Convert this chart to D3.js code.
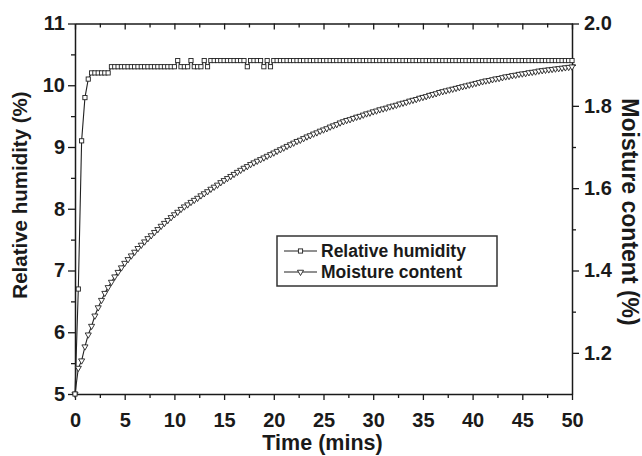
<!DOCTYPE html>
<html><head><meta charset="utf-8">
<script src="https://cdn.jsdelivr.net/npm/d3@7"></script>
<style>
html,body{margin:0;padding:0;background:#fff;}
svg text{font-family:"Liberation Sans",Arial,sans-serif;font-weight:bold;fill:#1a1a1a;}
</style></head>
<body><svg id="c" width="642" height="456"></svg>
<script>
// time in seconds (sampling every 20 s)
const timeSec = [
0,20,40,60,80,100,120,140,160,180,
200,220,240,260,280,300,320,340,360,380,
400,420,440,460,480,500,520,540,560,580,
600,620,640,660,680,700,720,740,760,780,
800,820,840,860,880,900,920,940,960,980,
1000,1020,1040,1060,1080,1100,1120,1140,1160,1180,
1200,1220,1240,1260,1280,1300,1320,1340,1360,1380,
1400,1420,1440,1460,1480,1500,1520,1540,1560,1580,
1600,1620,1640,1660,1680,1700,1720,1740,1760,1780,
1800,1820,1840,1860,1880,1900,1920,1940,1960,1980,
2000,2020,2040,2060,2080,2100,2120,2140,2160,2180,
2200,2220,2240,2260,2280,2300,2320,2340,2360,2380,
2400,2420,2440,2460,2480,2500,2520,2540,2560,2580,
2600,2620,2640,2660,2680,2700,2720,2740,2760,2780,
2800,2820,2840,2860,2880,2900,2920,2940,2960,2980,
3000];
const relativeHumidity = [
5.0,6.7,9.1,9.8,10.1,10.2,10.2,10.2,10.2,10.2,
10.2,10.3,10.3,10.3,10.3,10.3,10.3,10.3,10.3,10.3,
10.3,10.3,10.3,10.3,10.3,10.3,10.3,10.3,10.3,10.3,
10.3,10.4,10.3,10.3,10.3,10.4,10.3,10.3,10.3,10.4,
10.3,10.4,10.4,10.4,10.4,10.4,10.4,10.4,10.4,10.4,
10.4,10.4,10.3,10.4,10.4,10.4,10.4,10.3,10.4,10.3,
10.4,10.4,10.4,10.4,10.4,10.4,10.4,10.4,10.4,10.4,
10.4,10.4,10.4,10.4,10.4,10.4,10.4,10.4,10.4,10.4,
10.4,10.4,10.4,10.4,10.4,10.4,10.4,10.4,10.4,10.4,
10.4,10.4,10.4,10.4,10.4,10.4,10.4,10.4,10.4,10.4,
10.4,10.4,10.4,10.4,10.4,10.4,10.4,10.4,10.4,10.4,
10.4,10.4,10.4,10.4,10.4,10.4,10.4,10.4,10.4,10.4,
10.4,10.4,10.4,10.4,10.4,10.4,10.4,10.4,10.4,10.4,
10.4,10.4,10.4,10.4,10.4,10.4,10.4,10.4,10.4,10.4,
10.4,10.4,10.4,10.4,10.4,10.4,10.4,10.4,10.4,10.4,
10.4];
const moistureContent = [
1.100,1.163,1.181,1.215,1.244,1.265,1.290,1.310,1.328,1.345,
1.359,1.372,1.385,1.396,1.407,1.418,1.427,1.436,1.445,1.454,
1.462,1.470,1.478,1.485,1.493,1.500,1.508,1.515,1.522,1.529,
1.536,1.542,1.549,1.555,1.560,1.566,1.571,1.576,1.582,1.587,
1.592,1.598,1.603,1.608,1.614,1.619,1.624,1.629,1.634,1.639,
1.644,1.649,1.653,1.658,1.662,1.666,1.670,1.674,1.678,1.682,
1.686,1.690,1.694,1.698,1.702,1.706,1.710,1.714,1.717,1.721,
1.725,1.728,1.732,1.735,1.739,1.742,1.745,1.749,1.752,1.755,
1.759,1.762,1.765,1.767,1.770,1.773,1.775,1.778,1.781,1.783,
1.786,1.788,1.791,1.793,1.795,1.798,1.800,1.802,1.805,1.807,
1.809,1.812,1.814,1.816,1.819,1.821,1.823,1.826,1.828,1.830,
1.833,1.835,1.837,1.839,1.841,1.843,1.845,1.847,1.849,1.851,
1.853,1.855,1.857,1.859,1.861,1.862,1.864,1.866,1.867,1.869,
1.871,1.872,1.874,1.875,1.877,1.878,1.879,1.881,1.882,1.883,
1.885,1.886,1.887,1.888,1.889,1.890,1.891,1.892,1.893,1.894,
1.895];
const xTicks = [0,5,10,15,20,25,30,35,40,45,50];
const xMinorTicks = [2.5,7.5,12.5,17.5,22.5,27.5,32.5,37.5,42.5,47.5];
const yLeftTicks = [5,6,7,8,9,10,11];
const yLeftMinorTicks = [5.5,6.5,7.5,8.5,9.5,10.5];
const yRightTicks = [1.2,1.4,1.6,1.8,2.0];
const yRightMinorTicks = [1.3,1.5,1.7,1.9];
const seriesNames = ["Relative humidity","Moisture content"];
const xTitle = "Time (mins)";
const yLeftTitle = "Relative humidity (%)";
const yRightTitle = "Moisture content (%)";

const svg = d3.select("#c");
const L = 75, R = 572, T = 23.5, B = 394;
const x = d3.scaleLinear().domain([0,50]).range([L,R]);
const yL = d3.scaleLinear().domain([5,11]).range([B,T]);
const yR = d3.scaleLinear().domain([1.1,2.0]).range([B,T]);
const ink = "#1a1a1a";

function style(g, fs){
  g.select(".domain").attr("stroke", ink).attr("stroke-width", 1.5);
  g.selectAll(".tick line").attr("stroke", ink).attr("stroke-width", 1.3);
  g.selectAll(".tick text").style("font-size", fs+"px").attr("fill", ink);
}
// bottom
const gb = svg.append("g").attr("transform",`translate(0,${B})`)
  .call(d3.axisBottom(x).tickValues(xTicks).tickSize(6).tickSizeOuter(0).tickPadding(13).tickFormat(d3.format("d")));
style(gb,20);
const gbm = svg.append("g").attr("transform",`translate(0,${B})`)
  .call(d3.axisBottom(x).tickValues(xMinorTicks).tickSize(4).tickSizeOuter(0).tickFormat(""));
style(gbm,20); gbm.select(".domain").remove();
// top (inward ticks)
const gt = svg.append("g").attr("transform",`translate(0,${T})`)
  .call(d3.axisBottom(x).tickValues(xTicks).tickSize(6).tickSizeOuter(0).tickFormat(""));
style(gt,20);
const gtm = svg.append("g").attr("transform",`translate(0,${T})`)
  .call(d3.axisBottom(x).tickValues(xMinorTicks).tickSize(4).tickSizeOuter(0).tickFormat(""));
style(gtm,20); gtm.select(".domain").remove();
// left
const gl = svg.append("g").attr("transform",`translate(${L},0)`)
  .call(d3.axisLeft(yL).tickValues(yLeftTicks).tickSize(7).tickSizeOuter(0).tickPadding(3).tickFormat(d3.format("d")));
style(gl,20);
const glm = svg.append("g").attr("transform",`translate(${L},0)`)
  .call(d3.axisLeft(yL).tickValues(yLeftMinorTicks).tickSize(4).tickSizeOuter(0).tickFormat(""));
style(glm,20); glm.select(".domain").remove();
// right
const gr = svg.append("g").attr("transform",`translate(${R},0)`)
  .call(d3.axisRight(yR).tickValues(yRightTicks).tickSize(7).tickSizeOuter(0).tickPadding(5).tickFormat(d3.format(".1f")));
style(gr,20);
const grm = svg.append("g").attr("transform",`translate(${R},0)`)
  .call(d3.axisRight(yR).tickValues(yRightMinorTicks).tickSize(4).tickSizeOuter(0).tickFormat(""));
style(grm,20); grm.select(".domain").remove();

// titles
svg.append("text").attr("x",(L+R)/2-1).attr("y",450).attr("text-anchor","middle")
  .style("font-size","21.5px").text(xTitle);
svg.append("text").attr("transform","translate(27,195) rotate(-90)").attr("text-anchor","middle")
  .style("font-size","20.5px").text(yLeftTitle);
svg.append("text").attr("transform","translate(622,212) rotate(90)").attr("text-anchor","middle")
  .style("font-size","23px").text(yRightTitle);

const tMin = s => s/60;
const rhData = timeSec.map((s,i)=>({t:tMin(s), v:relativeHumidity[i]}));
const mcData = timeSec.map((s,i)=>({t:tMin(s), v:moistureContent[i]}));

const lineColor = "#222";
svg.append("path").datum(rhData).attr("fill","none").attr("stroke",lineColor).attr("stroke-width",1.1)
  .attr("d", d3.line().x(d=>x(d.t)).y(d=>yL(d.v)));
svg.append("path").datum(mcData).attr("fill","none").attr("stroke",lineColor).attr("stroke-width",1.1)
  .attr("d", d3.line().x(d=>x(d.t)).y(d=>yR(d.v)));

const sq = 4.2;
function square(g,cx,cy){
  g.append("rect").attr("x",cx-sq/2).attr("y",cy-sq/2).attr("width",sq).attr("height",sq)
   .attr("fill","#fff").attr("stroke",lineColor).attr("stroke-width",0.9);
}
const tri = d3.symbol().type(d3.symbolTriangle).size(16);
function triangle(g,cx,cy){
  g.append("path").attr("d",tri()).attr("transform",`translate(${cx},${cy}) rotate(180)`)
   .attr("fill","#fff").attr("stroke",lineColor).attr("stroke-width",0.9);
}
const gm1 = svg.append("g");
mcData.forEach(d=>triangle(gm1,x(d.t),yR(d.v)));
const gm2 = svg.append("g");
rhData.forEach(d=>square(gm2,x(d.t),yL(d.v)));

// legend
const lg = svg.append("g");
lg.append("rect").attr("x",277).attr("y",236).attr("width",220).attr("height",50)
  .attr("fill","#fff").attr("stroke","#333").attr("stroke-width",1.5);
const rows = [251,272];
rows.forEach((ry,k)=>{
  lg.append("line").attr("x1",284).attr("x2",317).attr("y1",ry).attr("y2",ry).attr("stroke",lineColor).attr("stroke-width",1.1);
  if(k===0) square(lg,300.5,ry); else triangle(lg,300.5,ry);
  lg.append("text").attr("x",321).attr("y",ry).attr("dy","0.36em").style("font-size","17.5px").text(seriesNames[k]);
});
</script></body></html>
